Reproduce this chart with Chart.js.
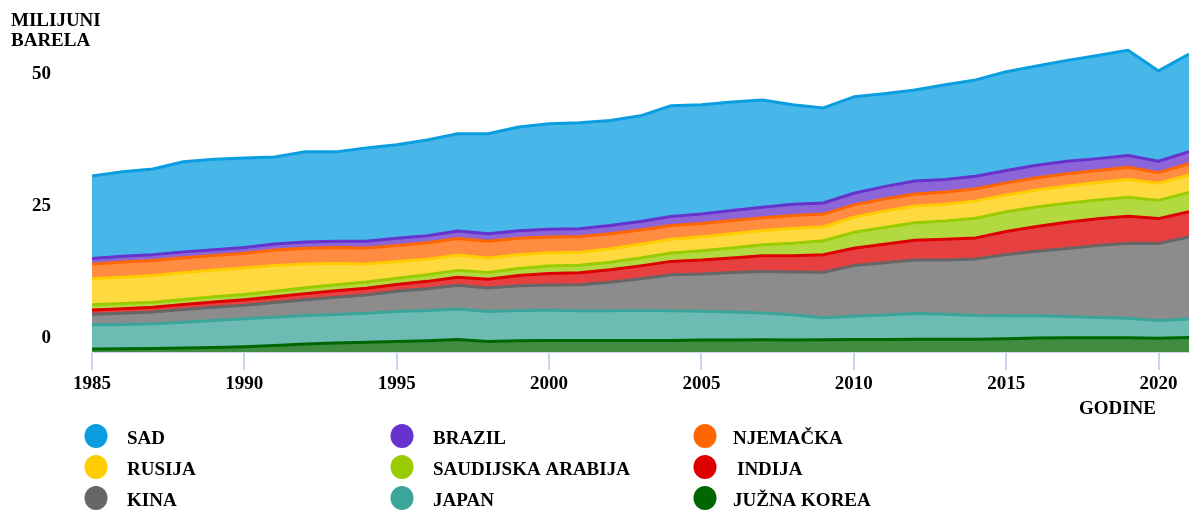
<!DOCTYPE html>
<html>
<head>
<meta charset="utf-8">
<script src="https://cdn.jsdelivr.net/npm/chart.js@4"></script>
<style>
  html, body { margin: 0; padding: 0; background: #fff; }
  #wrap { width: 1190px; height: 511px; position: relative; }
</style>
</head>
<body>
<div id="wrap"><canvas id="c" width="1190" height="511"></canvas></div>
<script>
// ---- data (million barrels per day) ----
const years = [1985,1986,1987,1988,1989,1990,1991,1992,1993,1994,1995,1996,1997,1998,1999,2000,2001,2002,2003,2004,2005,2006,2007,2008,2009,2010,2011,2012,2013,2014,2015,2016,2017,2018,2019,2020,2021];
const xTickLabels = [1985,1990,1995,2000,2005,2010,2015,2020];
const yTickLabels = [0,25,50];

const juznaKorea = [0.55,0.6,0.65,0.75,0.85,1.0,1.25,1.5,1.7,1.85,2.0,2.15,2.35,2.0,2.15,2.2,2.2,2.2,2.2,2.2,2.25,2.25,2.3,2.25,2.3,2.35,2.35,2.4,2.4,2.4,2.5,2.65,2.7,2.7,2.7,2.6,2.75];
const japan = [4.6,4.62,4.68,4.9,5.1,5.3,5.35,5.4,5.38,5.5,5.68,5.72,5.8,5.65,5.72,5.68,5.6,5.6,5.65,5.6,5.45,5.3,5.1,4.8,4.2,4.4,4.65,4.9,4.73,4.5,4.36,4.2,4.0,3.85,3.7,3.35,3.5];
const kina = [2.0,2.1,2.25,2.4,2.5,2.55,2.75,3.0,3.3,3.45,3.8,4.1,4.5,4.45,4.65,4.8,4.95,5.4,6.0,6.8,7.05,7.5,7.85,8.1,8.6,9.6,9.9,10.1,10.3,10.7,11.6,12.2,12.9,13.6,14.2,14.6,15.5];
const indija = [0.8,0.85,0.9,0.95,1.0,1.05,1.1,1.15,1.2,1.25,1.3,1.4,1.5,1.65,1.95,2.2,2.25,2.35,2.45,2.55,2.65,2.75,2.95,3.05,3.3,3.3,3.5,3.75,3.9,4.0,4.35,4.7,4.95,5.05,5.1,4.7,4.8];
const saudijskaArabija = [1.0,1.0,0.95,0.95,1.0,1.0,1.05,1.1,1.15,1.2,1.2,1.25,1.3,1.3,1.35,1.4,1.4,1.45,1.5,1.6,1.75,1.9,2.1,2.4,2.65,3.0,3.15,3.3,3.45,3.7,3.75,3.7,3.6,3.55,3.6,3.45,3.65];
const rusija = [4.95,5.0,5.05,5.05,5.05,5.0,4.85,4.5,4.0,3.4,3.15,2.95,2.9,2.75,2.6,2.5,2.5,2.55,2.6,2.6,2.65,2.7,2.7,2.8,2.65,2.85,3.1,3.2,3.2,3.3,3.15,3.2,3.25,3.35,3.35,3.25,3.3];
const njemacka = [2.7,2.85,2.85,2.85,2.75,2.8,2.95,3.0,3.05,3.05,3.05,3.1,3.15,3.15,3.1,3.0,2.95,2.85,2.7,2.6,2.5,2.5,2.4,2.45,2.4,2.35,2.3,2.25,2.3,2.3,2.3,2.35,2.35,2.25,2.3,2.0,2.15];
const brazil = [1.1,1.1,1.1,1.1,1.1,1.1,1.15,1.15,1.2,1.25,1.35,1.35,1.4,1.45,1.45,1.45,1.5,1.55,1.6,1.7,1.8,1.9,2.0,2.1,2.1,2.2,2.35,2.45,2.35,2.35,2.35,2.35,2.35,2.25,2.25,2.15,2.25];
const sad = [15.6,16.0,16.2,17.05,17.15,16.9,16.45,17.1,16.9,17.65,17.7,18.1,18.4,18.9,19.6,19.95,20.05,19.85,20.0,20.95,20.7,20.5,20.3,18.85,18.0,18.25,17.6,17.25,17.95,18.25,18.7,18.8,19.1,19.5,19.9,17.1,18.5];

// stacking order, bottom to top
const seriesNames = ['JUŽNA KOREA','JAPAN','KINA','INDIJA','SAUDIJSKA ARABIJA','RUSIJA','NJEMAČKA','BRAZIL','SAD'];
const seriesValues = [juznaKorea, japan, kina, indija, saudijskaArabija, rusija, njemacka, brazil, sad];
const lineColors = ['#006600','#3ca59a','#666666','#dd0000','#99cc00','#ffcc00','#ff6600','#6633cc','#0a9ee0'];
const fillColors = ['rgba(0,102,0,0.75)','rgba(60,165,154,0.75)','rgba(102,102,102,0.75)','rgba(221,0,0,0.75)','rgba(153,204,0,0.75)','rgba(255,204,0,0.75)','rgba(255,102,0,0.75)','rgba(102,51,204,0.75)','rgba(10,158,224,0.75)'];

// legend grid (rows of names)
const legendRows = [['SAD','BRAZIL','NJEMAČKA'],['RUSIJA','SAUDIJSKA ARABIJA','INDIJA'],['KINA','JAPAN','JUŽNA KOREA']];

const FONT = "'Liberation Serif', 'Times New Roman', serif";

const datasets = seriesNames.map((name, i) => ({
  label: name,
  data: years.map((y, j) => ({ x: y, y: seriesValues[i][j] })),
  borderColor: lineColors[i],
  backgroundColor: fillColors[i],
  borderWidth: 3,
  pointRadius: 0,
  pointHoverRadius: 0,
  tension: 0,
  fill: i === 0 ? 'origin' : '-1'
}));

const textPlugin = {
  id: 'texts',
  afterDraw(chart) {
    const ctx = chart.ctx;
    ctx.save();
    ctx.fillStyle = '#000';
    ctx.textBaseline = 'alphabetic';
    ctx.font = 'bold 19px ' + FONT;
    ctx.textAlign = 'left';
    ctx.fillText('MILIJUNI', 11, 26);
    ctx.fillText('BARELA', 11, 46);
    ctx.textAlign = 'right';
    ctx.fillText('GODINE', 1156, 414);
    // legend
    const colX = [96, 402, 705];
    const textGap = [31, 31, 28];
    const rowY = [436, 467, 498];
    ctx.font = 'bold 19px ' + FONT;
    ctx.textAlign = 'left';
    legendRows.forEach((row, r) => {
      row.forEach((name, c) => {
        const ds = chart.data.datasets.find(d => d.label === name);
        ctx.beginPath();
        ctx.fillStyle = ds.borderColor;
        ctx.ellipse(colX[c], rowY[r], 11.5, 12, 0, 0, Math.PI * 2);
        ctx.fill();
        ctx.fillStyle = '#000';
        ctx.fillText(name, colX[c] + textGap[c] + (name === 'INDIJA' ? 4 : 0), rowY[r] + 8);
      });
    });
    ctx.restore();
  }
};

function noPad(s) { s.paddingTop = 0; s.paddingBottom = 0; s.paddingLeft = 0; s.paddingRight = 0; }

new Chart(document.getElementById('c'), {
  type: 'line',
  data: { datasets },
  plugins: [textPlugin],
  options: {
    responsive: false,
    animation: false,
    events: [],
    layout: { padding: { left: 0, right: 1, top: 35, bottom: 119 } },
    plugins: { legend: { display: false }, tooltip: { enabled: false }, title: { display: false } },
    elements: { line: { borderJoinStyle: 'round' } },
    scales: {
      x: {
        type: 'linear',
        min: 1985,
        max: 2021,
        afterBuildTicks: (s) => { s.ticks = xTickLabels.map(v => ({ value: v })); },
        afterFit: (s) => { s.height = 40; noPad(s); },
        grid: { drawOnChartArea: false, color: '#ccd6eb', lineWidth: 2, tickLength: 18 },
        border: { display: true, color: '#ccd6eb', width: 1 },
        ticks: {
          autoSkip: false, maxRotation: 0, padding: 3,
          color: '#000',
          font: { family: FONT, weight: 'bold', size: 19 },
          callback: (v) => String(v)
        }
      },
      y: {
        stacked: true,
        min: 0,
        max: 60,
        afterBuildTicks: (s) => { s.ticks = yTickLabels.map(v => ({ value: v })); },
        afterFit: (s) => { s.width = 92; noPad(s); },
        grid: { display: false, drawTicks: false },
        border: { display: false },
        ticks: {
          padding: 41,
          labelOffset: -14,
          color: '#000',
          font: { family: FONT, weight: 'bold', size: 19 },
          callback: (v) => String(v)
        }
      }
    }
  }
});
</script>
</body>
</html>
